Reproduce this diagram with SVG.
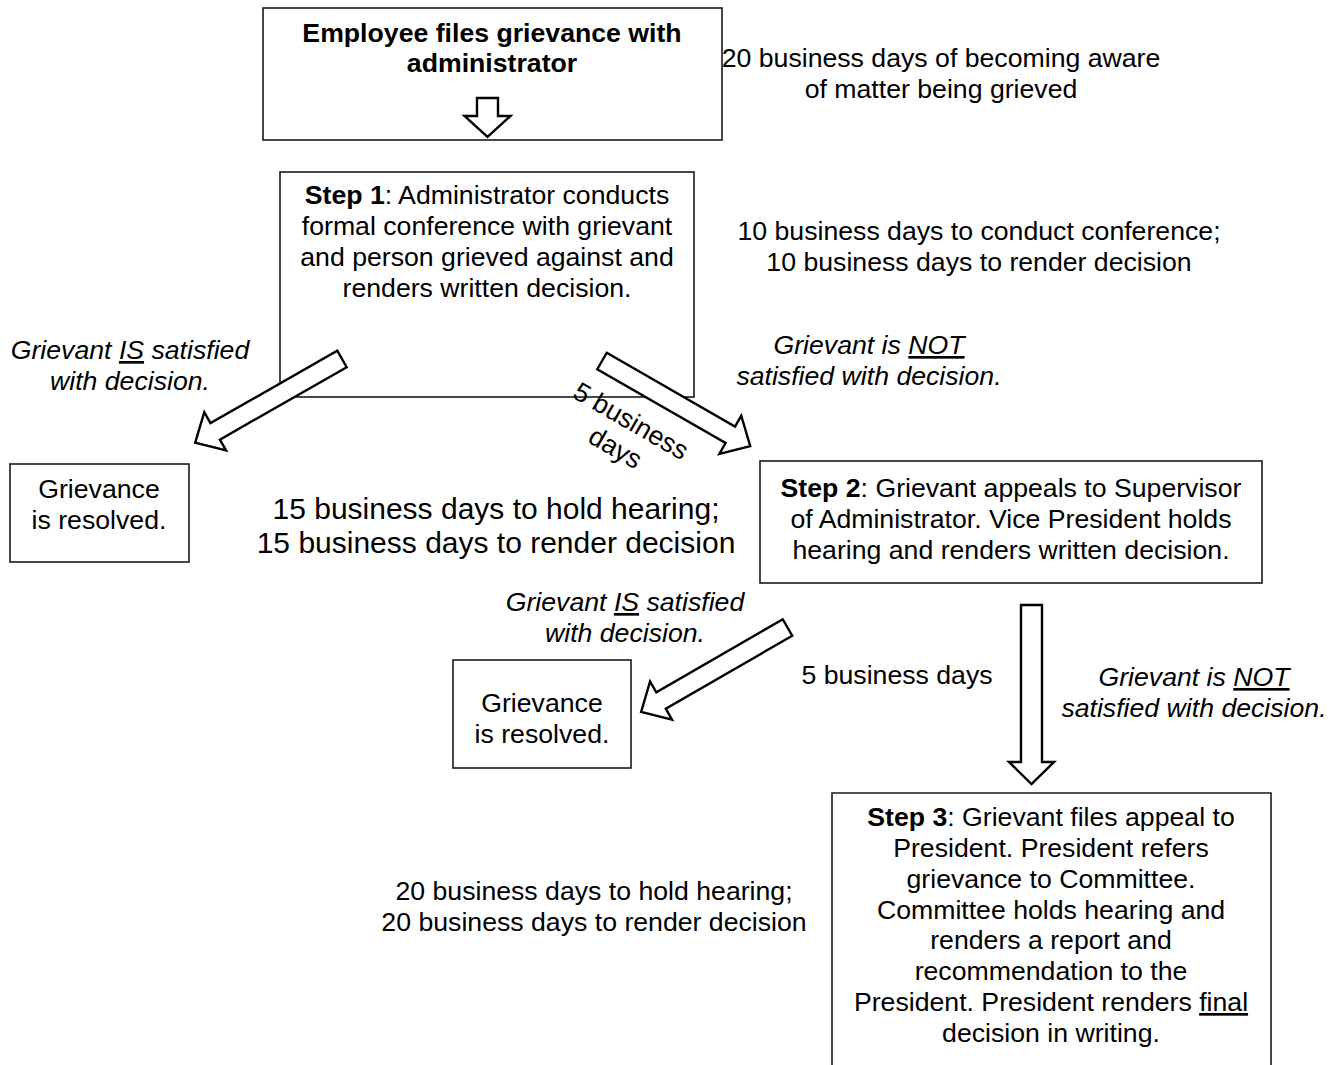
<svg xmlns="http://www.w3.org/2000/svg" width="1342" height="1065" viewBox="0 0 1342 1065">
<style>
  .box { fill: #fff; stroke: #1a1a1a; stroke-width: 1.6; }
  .arr { fill: #fff; stroke: #000; stroke-width: 2.4; stroke-linejoin: miter; }
  text { font-family: "Liberation Sans", Arial, sans-serif; font-size: 26.67px; fill: #000; text-anchor: middle; }
  .b { font-weight: bold; }
  .i { font-style: italic; }
  .u { text-decoration: underline; }
  .big { font-size: 30px; }
</style>
<rect width="1342" height="1065" fill="#fff"/>

<g id="start">
  <rect class="box" x="263" y="8" width="459" height="132"/>
  <text class="b" x="492" y="42">Employee files grievance with</text>
  <text class="b" x="492" y="72">administrator</text>
</g>

<g id="step1">
  <rect class="box" x="280" y="172" width="414" height="225"/>
  <text x="487" y="204"><tspan class="b">Step 1</tspan>: Administrator conducts</text>
  <text x="487" y="235">formal conference with grievant</text>
  <text x="487" y="266">and person grieved against and</text>
  <text x="487" y="297">renders written decision.</text>
</g>

<g id="resolved1">
  <rect class="box" x="10" y="464" width="179" height="98"/>
  <text x="99" y="498">Grievance</text>
  <text x="99" y="529">is resolved.</text>
</g>

<g id="step2">
  <rect class="box" x="760" y="461" width="502" height="122"/>
  <text x="1011" y="497"><tspan class="b">Step 2</tspan>: Grievant appeals to Supervisor</text>
  <text x="1011" y="528">of Administrator. Vice President holds</text>
  <text x="1011" y="559">hearing and renders written decision.</text>
</g>

<g id="resolved2">
  <rect class="box" x="453" y="660" width="178" height="108"/>
  <text x="542" y="712">Grievance</text>
  <text x="542" y="743">is resolved.</text>
</g>

<g id="step3">
  <path class="box" d="M832,1070 V793 H1271 V1070"/>
  <text x="1051" y="826"><tspan class="b">Step 3</tspan>: Grievant files appeal to</text>
  <text x="1051" y="857">President. President refers</text>
  <text x="1051" y="888">grievance to Committee.</text>
  <text x="1051" y="919">Committee holds hearing and</text>
  <text x="1051" y="949">renders a report and</text>
  <text x="1051" y="980">recommendation to the</text>
  <text x="1051" y="1011">President. President renders <tspan class="u">final</tspan></text>
  <text x="1051" y="1042">decision in writing.</text>
</g>

<g id="connectors">
  <polygon class="arr" transform="translate(487.5,98) rotate(90)" points="0,-10.5 18,-10.5 18,-23 39,0 18,23 18,10.5 0,10.5"/>
  <polygon class="arr" transform="translate(342,359) rotate(150.3)" points="0,-9.5 146,-9.5 146,-22 169,0 146,22 146,9.5 0,9.5"/>
  <polygon class="arr" transform="translate(602,361) rotate(29.9)" points="0,-9.5 148,-9.5 148,-22 171,0 148,22 148,9.5 0,9.5"/>
  <polygon class="arr" transform="translate(787.5,627.5) rotate(150)" points="0,-9.5 146,-9.5 146,-22 169,0 146,22 146,9.5 0,9.5"/>
  <polygon class="arr" transform="translate(1031.5,605) rotate(90)" points="0,-10.5 157,-10.5 157,-22.5 179,0 157,22.5 157,10.5 0,10.5"/>
</g>

<g id="labels">
  <text x="941" y="67">20 business days of becoming aware</text>
  <text x="941" y="98">of matter being grieved</text>
  <text x="979" y="240">10 business days to conduct conference;</text>
  <text x="979" y="271">10 business days to render decision</text>
  <text class="i" x="130" y="359">Grievant <tspan class="u">IS</tspan> satisfied</text>
  <text class="i" x="130" y="390">with decision.</text>
  <text class="i" x="869" y="354">Grievant is <tspan class="u">NOT</tspan></text>
  <text class="i" x="869" y="385">satisfied with decision.</text>
  <g transform="translate(631,421) rotate(30)">
    <text x="0" y="9">5 business</text>
    <text x="0" y="40">days</text>
  </g>
  <text class="big" x="496" y="519">15 business days to hold hearing;</text>
  <text class="big" x="496" y="553">15 business days to render decision</text>
  <text class="i" x="625" y="611">Grievant <tspan class="u">IS</tspan> satisfied</text>
  <text class="i" x="625" y="642">with decision.</text>
  <text x="897" y="684">5 business days</text>
  <text class="i" x="1194" y="686">Grievant is <tspan class="u">NOT</tspan></text>
  <text class="i" x="1194" y="717">satisfied with decision.</text>
  <text x="594" y="900">20 business days to hold hearing;</text>
  <text x="594" y="931">20 business days to render decision</text>
</g>
</svg>
